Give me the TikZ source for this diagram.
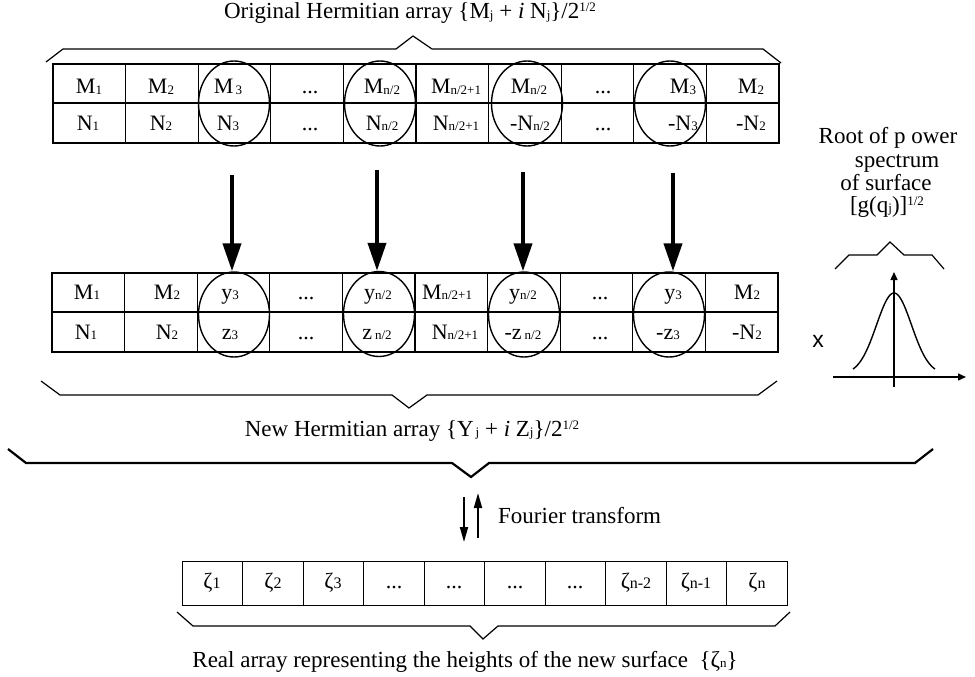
\documentclass[tikz,border=0pt]{standalone}
\usepackage{fontspec}
\setmainfont{Liberation Serif}
\newfontfamily\sansx{Liberation Sans}
\usetikzlibrary{arrows.meta,shapes.geometric}
\newcommand{\lo}[1]{\raisebox{-0.8pt}{\fontsize{13}{13}\selectfont #1}}
\newcommand{\zlo}[1]{\raisebox{-0.5pt}{\fontsize{16}{16}\selectfont #1}}
\newcommand{\hi}[1]{\raisebox{7pt}{\fontsize{13}{13}\selectfont #1}}
\begin{document}
\begin{tikzpicture}[x=1pt,y=-1pt,
  txt/.style={inner sep=0pt, anchor=base, font=\fontsize{22}{26}\selectfont},
  lbl/.style={inner sep=0pt, anchor=base, font=\fontsize{23}{27}\selectfont},
  grid/.style={line width=1.3pt},
  brace/.style={line width=1.2pt, line join=miter},
  ell/.style={draw, ellipse, line width=1.4pt, inner sep=0pt, minimum width=71pt, minimum height=85pt},
  bigarrow/.style={line width=4pt, -{Triangle[length=28pt,width=18pt]}},
  smallarrow/.style={line width=1.8pt, -{Triangle[length=15pt,width=8pt]}},
  axis/.style={line width=1.4pt, -{Triangle[length=8pt,width=7pt]}}
]
\useasboundingbox (0,0) rectangle (975,677);

% ---------- top label and brace ----------
\node[lbl] (toplbl) at (410,19) {Original Hermitian array \{M\lo{j} + \textit{i} N\lo{j}\}/2\hi{1/2}};
\draw[brace] (46,62) -- (63,49) -- (396,49) -- (413,36) -- (432,49) -- (763,49) -- (781,63);

% ---------- top table ----------
\draw[grid] (53,64) rectangle (779,143);
\draw[grid] (53,103) -- (779,103);
\foreach \i in {1,...,9} \draw[grid] ({53+72.6*\i},64) -- ({53+72.6*\i},143);

\node[txt] (tm1) at (89,94) {M\lo{1}};
\node[txt] (tm2) at (161,94) {M\lo{2}};
\node[txt] (tm3) at (228,94) {M\lo{\,3}};
\node[txt] (tm4) at (310,94) {...};
\node[txt] (tm5) at (382,94) {M\lo{n/2}};
\node[txt] (tm6) at (456,94) {M\lo{n/2+1}};
\node[txt] (tm7) at (529,94) {M\lo{n/2}};
\node[txt] (tm8) at (603,94) {...};
\node[txt] (tm9) at (683,94) {M\lo{3}};
\node[txt] (tm10) at (751,94) {M\lo{2}};

\node[txt] (tn1) at (88,130) {N\lo{1}};
\node[txt] (tn2) at (161,130) {N\lo{2}};
\node[txt] (tn3) at (228,130) {N\lo{3}};
\node[txt] (tn4) at (310,130) {...};
\node[txt] (tn5) at (382,130) {N\lo{n/2}};
\node[txt] (tn6) at (456,130) {N\lo{n/2+1}};
\node[txt] (tn7) at (530,130) {-N\lo{n/2}};
\node[txt] (tn8) at (603,130) {...};
\node[txt] (tn9) at (683,130) {-N\lo{3}};
\node[txt] (tn10) at (751,130) {-N\lo{2}};

\node[ell] (e1) at (234,103.5) {};
\node[ell] (e2) at (380,103.5) {};
\node[ell] (e3) at (527,103.5) {};
\node[ell] (e4) at (670,103.5) {};

% ---------- middle table ----------
\draw[grid] (52,273) rectangle (778,352);
\draw[grid] (52,312) -- (778,312);
\foreach \i in {1,...,9} \draw[grid] ({52+72.6*\i},273) -- ({52+72.6*\i},352);

\node[txt] (mm1) at (87,299) {M\lo{1}};
\node[txt] (mm2) at (167,299) {M\lo{2}};
\node[txt] (mm3) at (230,299) {y\lo{3}};
\node[txt] (mm4) at (306,299) {...};
\node[txt] (mm5) at (378,299) {y\lo{n/2}};
\node[txt] (mm6) at (447,299) {M\lo{n/2+1}};
\node[txt] (mm7) at (523,299) {y\lo{n/2}};
\node[txt] (mm8) at (600,299) {...};
\node[txt] (mm9) at (673,299) {y\lo{3}};
\node[txt] (mm10) at (747,299) {M\lo{2}};

\node[txt] (mn1) at (86,339) {N\lo{1}};
\node[txt] (mn2) at (167,339) {N\lo{2}};
\node[txt] (mn3) at (230,339) {z\lo{3}};
\node[txt] (mn4) at (306,339) {...};
\node[txt] (mn5) at (377,339) {z\hspace{3pt}\lo{n/2}};
\node[txt] (mn6) at (455,339) {N\lo{n/2+1}};
\node[txt] (mn7) at (523,339) {-z\hspace{3pt}\lo{n/2}};
\node[txt] (mn8) at (600,339) {...};
\node[txt] (mn9) at (668,339) {-z\lo{3}};
\node[txt] (mn10) at (747,339) {-N\lo{2}};

\node[ell] (f1) at (234,314.5) {};
\node[ell] (f2) at (379,314) {};
\node[ell] (f3) at (524,314.5) {};
\node[ell] (f4) at (669,314.5) {};

% ---------- thick arrows ----------
\coordinate (a1) at (232,175);
\coordinate (a2) at (377,170);
\coordinate (a3) at (523,172);
\coordinate (a4) at (673,173);
\draw[bigarrow] (a1) -- (a1 |- f1.north);
\draw[bigarrow] (a2) -- (a2 |- f2.north);
\draw[bigarrow] (a3) -- (a3 |- f3.north);
\draw[bigarrow] (a4) -- (a4 |- f4.north);

% ---------- middle brace and label ----------
\draw[brace] (41,381) -- (60,395) -- (392,395) -- (409,408) -- (427,395) -- (758,395) -- (777,381);
\node[lbl] (midlbl) at (412,436) {New Hermitian array \{Y\hspace{2pt}\lo{j} + \textit{i} Z\lo{j}\}/2\hi{1/2}};

% ---------- big brace ----------
\draw[brace, line width=2.2pt] (8,449) -- (26,463) -- (452,463) -- (471,477) -- (489,463) -- (915,463) -- (933,449);

% ---------- Fourier arrows ----------
\coordinate (fd1) at (464,497);
\coordinate (fd2) at (464,542);
\coordinate (fu1) at (478,538);
\coordinate (fu2) at (478,493);
\draw[smallarrow] (fd1) -- (fd2);
\draw[smallarrow] (fu1) -- (fu2);
\node[lbl, anchor=base west] (fourier) at (498,523) {Fourier transform};

% ---------- bottom table ----------
\draw[line width=1pt] (182,561) rectangle (787,605);
\foreach \i in {1,...,9} \draw[line width=1pt] ({182+60.5*\i},561) -- ({182+60.5*\i},605);
\node[txt] (z1) at (212,588) {ζ\zlo{1}};
\node[txt] (z2) at (273,588) {ζ\zlo{2}};
\node[txt] (z3) at (333,588) {ζ\zlo{3}};
\node[txt] (z4) at (394,588) {...};
\node[txt] (z5) at (454,588) {...};
\node[txt] (z6) at (515,588) {...};
\node[txt] (z7) at (575,588) {...};
\node[txt] (z8) at (636,588) {ζ\zlo{n-2}};
\node[txt] (z9) at (696,588) {ζ\zlo{n-1}};
\node[txt] (z10) at (757,588) {ζ\zlo{n}};

\draw[brace] (177,612) -- (193,626) -- (470,626) -- (483,639) -- (498,626) -- (775,626) -- (790,612);
\node[lbl] (botlbl) at (465,667) {Real array representing the heights of the new surface \ \{ζ\lo{n}\}};

% ---------- right: power spectrum ----------
\node[lbl] (r1) at (888,143) {Root of p ower};
\node[lbl] (r2) at (897,167) {spectrum};
\node[lbl] (r3) at (886,190) {of surface};
\node[lbl] (r4) at (887,212) {[g(q\lo{j})]\hi{1/2}};
\draw[brace] (835,269) -- (849,255) -- (877,255) -- (890,242) -- (904,255) -- (932,255) -- (944,269);

\coordinate (ax0) at (833,377);
\coordinate (ax1) at (966,377);
\coordinate (ay0) at (894,387);
\coordinate (ay1) at (894,272);
\draw[axis] (ax0) -- (ax1);
\draw[axis] (ay0) -- (ay1);
\draw[line width=1.4pt] plot[domain=-41:41, samples=80, smooth]
  ({894+\x},{369-76*(exp(-(\x/17.5)^2/2)-0.0645)/0.9355});
\node[inner sep=0pt, font=\sansx\fontsize{23}{23}\selectfont] (xl) at (818,341) {x};
\end{tikzpicture}
\end{document}
